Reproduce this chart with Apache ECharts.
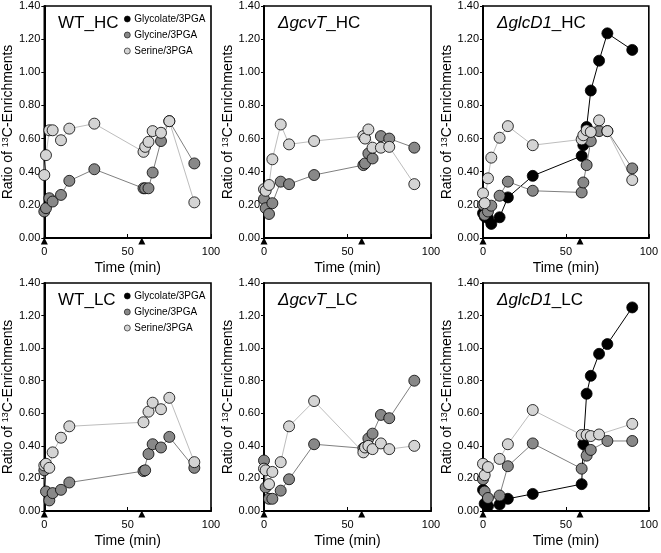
<!DOCTYPE html>
<html><head><meta charset="utf-8">
<script src="https://cdn.jsdelivr.net/npm/echarts@6/dist/echarts.min.js"></script>
<style>html,body{margin:0;padding:0;background:#fff}#c{width:661px;height:553px}</style>
</head><body><div id="c"></div>
<script>
// ---------- data ----------
const seriesNames = ['Glycolate/3PGA', 'Glycine/3PGA', 'Serine/3PGA'];
const xTickValues = [0, 50, 100];
const markerTimes = [0, 58.5];

// WT_HC
const wtHC_time    = [0, 1, 3, 5, 10, 15, 30, 59.5, 60.5, 62.5, 65, 70, 75, 90];
const wtHC_glycine = [0.16, 0.18, 0.24, 0.22, 0.26, 0.345, 0.415, 0.30, 0.30, 0.30, 0.395, 0.585, 0.705, 0.45];
const wtHC_serine  = [0.38, 0.50, 0.65, 0.65, 0.59, 0.66, 0.69, 0.52, 0.55, 0.58, 0.645, 0.635, 0.705, 0.215];

// ΔgcvT_HC
const gcvHC_time    = [0, 1, 3, 5, 10, 15, 30, 59.5, 60.5, 62.5, 65, 70, 75, 90];
const gcvHC_glycine = [0.235, 0.18, 0.145, 0.21, 0.34, 0.325, 0.38, 0.44, 0.45, 0.51, 0.48, 0.615, 0.60, 0.545];
const gcvHC_serine  = [0.295, 0.285, 0.32, 0.475, 0.685, 0.565, 0.585, 0.615, 0.60, 0.655, 0.545, 0.545, 0.55, 0.325];

// ΔglcD1_HC
const glcHC_time      = [0, 1, 3, 5, 10, 15, 30, 59.5, 60.5, 62.5, 65, 70, 75, 90];
const glcHC_glycolate = [0.15, 0.13, 0.12, 0.085, 0.125, 0.245, 0.375, 0.495, 0.56, 0.67, 0.89, 1.07, 1.235, 1.135];
const glcHC_glycine   = [0.20, 0.14, 0.16, 0.195, 0.255, 0.34, 0.285, 0.275, 0.335, 0.44, 0.585, 0.645, 0.645, 0.42];
const glcHC_serine    = [0.27, 0.21, 0.36, 0.485, 0.605, 0.675, 0.56, 0.595, 0.62, 0.65, 0.64, 0.71, 0.645, 0.35];

// WT_LC
const wtLC_time    = [0, 1, 3, 5, 10, 15, 59.5, 60.5, 62.5, 65, 70, 75, 90];
const wtLC_glycine = [0.25, 0.12, 0.065, 0.11, 0.13, 0.175, 0.245, 0.25, 0.35, 0.41, 0.39, 0.455, 0.265];
const wtLC_serine  = [0.28, 0.29, 0.265, 0.36, 0.45, 0.52, 0.545, null, 0.61, 0.665, 0.625, 0.695, 0.30];

// ΔgcvT_LC
const gcvLC_time    = [0, 1, 3, 5, 10, 15, 30, 59.5, 60.5, 62.5, 65, 70, 75, 90];
const gcvLC_glycine = [0.31, 0.145, 0.075, 0.075, 0.125, 0.195, 0.41, 0.385, 0.39, 0.445, 0.475, 0.59, 0.57, 0.80];
const gcvLC_serine  = [0.26, 0.25, 0.165, 0.24, 0.30, 0.52, 0.675, 0.36, 0.39, 0.40, 0.38, 0.415, 0.38, 0.40];

// ΔglcD1_LC
const glcLC_time      = [0, 1, 3, 10, 15, 30, 59.5, 60.5, 62.5, 65, 70, 75, 90];
const glcLC_glycolate = [0.13, 0.045, 0.03, 0.04, 0.075, 0.105, 0.165, 0.41, 0.72, 0.83, 0.965, 1.025, 1.25];
const glcLC_glycine   = [0.195, 0.12, 0.08, 0.095, 0.275, 0.415, 0.26, null, 0.34, 0.375, null, 0.43, 0.43];
const glcLC_serine    = [0.29, 0.22, 0.27, 0.32, 0.41, 0.62, 0.467, null, 0.467, 0.46, 0.47, null, 0.535];

// ---------- chart ----------
const FONT = '"Liberation Sans", Arial, sans-serif';
const styles = {
  'Glycolate/3PGA': { fill: '#000000', line: '#000000' },
  'Glycine/3PGA':   { fill: '#888888', line: '#808080' },
  'Serine/3PGA':    { fill: '#d4d4d4', line: '#bdbdbd' }
};
const panels = [
  { title: '{n|WT_HC}', time: wtHC_time, data: { 'Glycine/3PGA': wtHC_glycine, 'Serine/3PGA': wtHC_serine }, legend: true },
  { title: '{i|ΔgcvT}{n|_HC}', time: gcvHC_time, data: { 'Glycine/3PGA': gcvHC_glycine, 'Serine/3PGA': gcvHC_serine } },
  { title: '{i|ΔglcD1}{n|_HC}', time: glcHC_time, data: { 'Glycolate/3PGA': glcHC_glycolate, 'Glycine/3PGA': glcHC_glycine, 'Serine/3PGA': glcHC_serine } },
  { title: '{n|WT_LC}', time: wtLC_time, data: { 'Glycine/3PGA': wtLC_glycine, 'Serine/3PGA': wtLC_serine }, legend: true },
  { title: '{i|ΔgcvT}{n|_LC}', time: gcvLC_time, data: { 'Glycine/3PGA': gcvLC_glycine, 'Serine/3PGA': gcvLC_serine } },
  { title: '{i|ΔglcD1}{n|_LC}', time: glcLC_time, data: { 'Glycolate/3PGA': glcLC_glycolate, 'Glycine/3PGA': glcLC_glycine, 'Serine/3PGA': glcLC_serine } }
];
const lefts = [44, 264, 483];
const widths = [167, 167, 166];
const tops = [6, 283];
const heights = [232, 228];

const grid = [], xAxis = [], yAxis = [], series = [], title = [], legend = [];
panels.forEach((p, i) => {
  const col = i % 3, row = Math.floor(i / 3);
  grid.push({ left: lefts[col], top: tops[row], width: widths[col], height: heights[row],
    show: true, borderColor: '#000', borderWidth: 1.6, backgroundColor: 'transparent' });
  xAxis.push({ type: 'value', gridIndex: i, min: 0, max: 100, interval: 50,
    name: 'Time (min)', nameLocation: 'middle', nameGap: 23,
    nameTextStyle: { fontFamily: FONT, fontSize: 14, color: '#000' },
    axisLine: { show: true, onZero: false, lineStyle: { color: '#000', width: 2 } },
    axisTick: { show: true, inside: true, length: 4, lineStyle: { color: '#000' } },
    axisLabel: { fontFamily: FONT, fontSize: 11, color: '#000', margin: 8,
      customValues: xTickValues },
    splitLine: { show: false } });
  yAxis.push({ type: 'value', gridIndex: i, min: 0, max: 1.4, interval: 0.2,
    name: 'Ratio of {s|13}C-Enrichments', nameLocation: 'middle', nameGap: 27, nameRotate: 90,
    nameTextStyle: { fontFamily: FONT, fontSize: 14, color: '#000',
      rich: { s: { fontFamily: FONT, fontSize: 9, color: '#000', verticalAlign: 'top', lineHeight: 14 } } },
    axisLine: { show: true, lineStyle: { color: '#000', width: 2 } },
    axisTick: { show: true, inside: false, length: 3, lineStyle: { color: '#000' } },
    axisLabel: { fontFamily: FONT, fontSize: 11, color: '#000', margin: 4,
      formatter: v => v.toFixed(2) },
    splitLine: { show: false } });
  title.push({ text: p.title, left: lefts[col] + 9, top: tops[row] + 4,
    textStyle: { fontWeight: 'normal', rich: {
      n: { fontFamily: FONT, fontSize: 17, color: '#000', fontWeight: 'normal' },
      i: { fontFamily: FONT, fontSize: 17, color: '#000', fontWeight: 'normal', fontStyle: 'italic' } } } });
  let first = true;
  seriesNames.forEach(name => {
    if (!p.data[name]) return;
    const vals = p.data[name];
    const pts = p.time.map((t, k) => [t, vals[k]]).filter(d => d[1] !== null);
    const s = {
      type: 'line', name, xAxisIndex: i, yAxisIndex: i, data: pts,
      symbol: 'circle', symbolSize: 11, showSymbol: true, clip: false,
      lineStyle: { color: styles[name].line, width: 1 },
      itemStyle: { color: styles[name].fill, borderColor: '#000', borderWidth: 0.8 },
      emphasis: { disabled: true }
    };
    if (first) {
      s.markPoint = { symbol: 'triangle', symbolSize: [7, 7], symbolOffset: [0, 3],
        itemStyle: { color: '#000' }, label: { show: false },
        data: markerTimes.map(t => ({ coord: [t, 0] })) };
      first = false;
    }
    series.push(s);
  });
  if (p.legend) {
    legend.push({ data: seriesNames, orient: 'vertical', left: lefts[col] + 75, top: tops[row] + 3,
      icon: 'circle', itemWidth: 6, itemHeight: 6, itemGap: 6,
      itemStyle: { borderColor: '#000', borderWidth: 0.6 },
      textStyle: { fontFamily: FONT, fontSize: 10, color: '#000', padding: [0, 0, 0, -1] },
      selectedMode: false });
  }
});

const chart = echarts.init(document.getElementById('c'), null, { renderer: 'canvas' });
chart.setOption({ animation: false, backgroundColor: '#fff', title, legend, grid, xAxis, yAxis, series });
</script>
</body></html>
